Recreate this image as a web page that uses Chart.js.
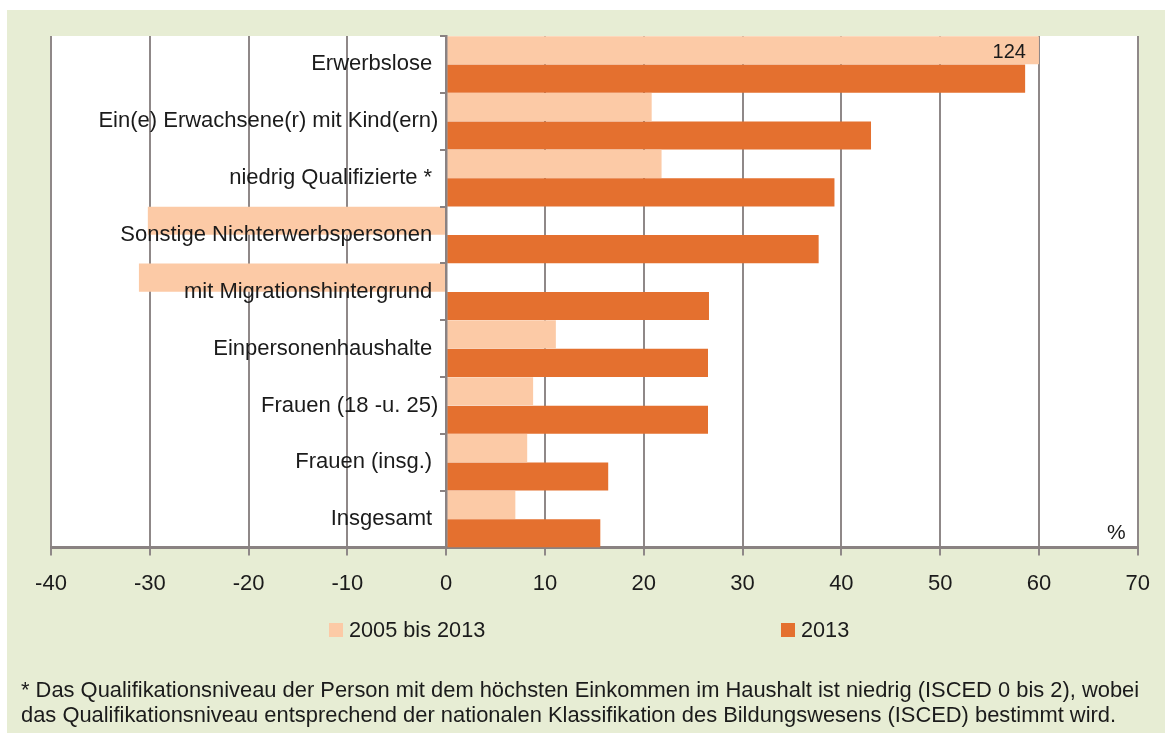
<!DOCTYPE html>
<html>
<head>
<meta charset="utf-8">
<script src="https://cdn.jsdelivr.net/npm/chart.js@4.4.1/dist/chart.umd.min.js"></script>
<style>
  html, body { margin: 0; padding: 0; background: #ffffff; }
  #wrap { width: 1165px; height: 733px; position: relative; }
</style>
</head>
<body>
<div id="wrap"><canvas id="c" width="1165" height="733"></canvas></div>
<script>
// ---- data ----
const categories = [
  'Erwerbslose ',
  'Ein(e) Erwachsene(r) mit Kind(ern)',
  'niedrig Qualifizierte * ',
  'Sonstige Nichterwerbspersonen ',
  'mit Migrationshintergrund ',
  'Einpersonenhaushalte ',
  'Frauen (18 -u. 25)',
  'Frauen (insg.) ',
  'Insgesamt '
];
const seriesNames = ['2005 bis 2013', '2013'];
const change2005to2013 = [60, 20.8, 21.8, -30.2, -31.1, 11.1, 8.8, 8.2, 7.0];
const change2005to2013Labels = ['124', '', '', '', '', '', '', '', ''];
const value2013 = [58.6, 43.0, 39.3, 37.7, 26.6, 26.5, 26.5, 16.4, 15.6];
const xTicks = [-40, -30, -20, -10, 0, 10, 20, 30, 40, 50, 60, 70];
const unitLabel = '%';
const footnote = [
  '* Das Qualifikationsniveau der Person mit dem höchsten Einkommen im Haushalt ist niedrig (ISCED 0 bis 2), wobei',
  'das Qualifikationsniveau entsprechend der nationalen Klassifikation des Bildungswesens (ISCED) bestimmt wird.'
];

const FONT = "'Liberation Sans', Arial, sans-serif";
const TXT = '#1b1b1b';
const GRID = '#8f8888';
const AXIS = '#8a8282';
const LIGHT = '#fccaa6';
const DARK = '#e4702f';
const PANEL = '#e7edd4';

const decorPlugin = {
  id: 'decor',
  beforeDraw(chart) {
    const ctx = chart.ctx;
    const a = chart.chartArea;
    ctx.save();
    ctx.fillStyle = PANEL;
    ctx.fillRect(7, 10, chart.width - 7, chart.height - 10);
    ctx.fillStyle = '#ffffff';
    ctx.fillRect(a.left, a.top, a.right - a.left, a.bottom - a.top);
    ctx.restore();
  },
  afterDraw(chart) {
    const ctx = chart.ctx;
    const a = chart.chartArea;
    ctx.save();
    ctx.fillStyle = TXT;
    ctx.font = '20px ' + FONT;
    // value labels on bars
    const meta = chart.getDatasetMeta(0);
    meta.data.forEach((bar, i) => {
      const t = change2005to2013Labels[i];
      if (!t) return;
      ctx.textAlign = 'right';
      ctx.textBaseline = 'middle';
      ctx.fillText(t, bar.x - 13, bar.y + 2);
    });
    // unit label
    ctx.font = '21px ' + FONT;
    ctx.textAlign = 'right';
    ctx.textBaseline = 'alphabetic';
    ctx.fillText(unitLabel, a.right - 12, a.bottom - 9);
    // legend
    const legendX = [329, 781];
    chart.data.datasets.forEach((ds, i) => {
      const x = legendX[i];
      ctx.fillStyle = ds.backgroundColor;
      ctx.fillRect(x, 623, 14, 14);
      ctx.fillStyle = TXT;
      ctx.textAlign = 'left';
      ctx.textBaseline = 'middle';
      ctx.font = '21.7px ' + FONT;
      ctx.fillText(ds.label, x + 20, 631);
    });
    // footnote
    ctx.font = '21.9px ' + FONT;
    ctx.textAlign = 'left';
    ctx.textBaseline = 'alphabetic';
    footnote.forEach((line, i) => ctx.fillText(line, 21, 697 + i * 25));
    ctx.restore();
  }
};

new Chart(document.getElementById('c'), {
  type: 'bar',
  data: {
    labels: categories,
    datasets: [
      { label: seriesNames[0], data: change2005to2013, backgroundColor: LIGHT, categoryPercentage: 1, barPercentage: 0.99 },
      { label: seriesNames[1], data: value2013, backgroundColor: DARK, categoryPercentage: 1, barPercentage: 0.99 }
    ]
  },
  options: {
    indexAxis: 'y',
    responsive: false,
    animation: false,
    devicePixelRatio: 1,
    layout: { padding: { left: 51, right: 27, top: 36, bottom: 121 } },
    plugins: { legend: { display: false }, tooltip: { enabled: false } },
    scales: {
      x: {
        type: 'linear',
        min: -40, max: 70,
        afterBuildTicks(scale) { scale.ticks = xTicks.map(v => ({ value: v })); },
        grid: { color: GRID, lineWidth: 2, tickLength: 8, drawTicks: true },
        border: { display: true, color: AXIS, width: 3 },
        ticks: { color: TXT, font: { family: FONT, size: 22 }, padding: 15 }
      },
      y: {
        position: { x: -0.8 },
        grid: { display: false },
        border: { display: false },
        ticks: { color: TXT, font: { family: FONT, size: 22 }, z: 2 }
      },
      yAxisLine: {
        type: 'category',
        axis: 'y',
        labels: categories,
        offset: true,
        position: { x: 0 },
        grid: { display: true, drawOnChartArea: false, drawTicks: true, tickLength: 5, color: AXIS, lineWidth: 2, offset: true, z: 1 },
        border: { display: true, color: AXIS, width: 2.5, z: 1 },
        ticks: { display: false }
      }
    }
  },
  plugins: [decorPlugin]
});
</script>
</body>
</html>
